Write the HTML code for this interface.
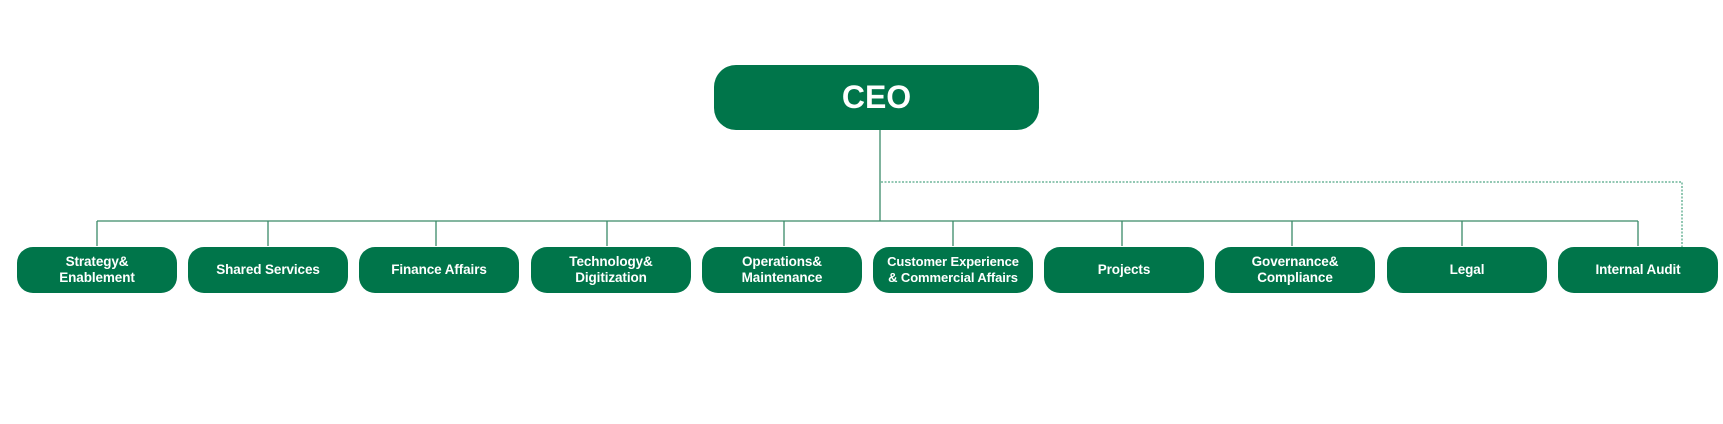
<!DOCTYPE html>
<html>
<head>
<meta charset="utf-8">
<style>
  html, body { margin: 0; padding: 0; background: #ffffff; }
  body { width: 1723px; height: 424px; overflow: hidden; position: relative; font-family: "Liberation Sans", sans-serif; }
  svg { position: absolute; left: 0; top: 0; }
  .box {
    position: absolute; top: 247px; width: 160px; height: 46px;
    background: #00754a; border-radius: 16px; color: #fff;
    font-weight: bold; font-size: 13.5px; line-height: 16.5px;
    display: flex; align-items: center; justify-content: center; text-align: center;
    letter-spacing: -0.1px;
  }
  .ceo {
    position: absolute; left: 714px; top: 65px; width: 325px; height: 65px;
    background: #00754a; border-radius: 22px; color: #fff;
    font-weight: bold; font-size: 32px;
    display: flex; align-items: center; justify-content: center;
  }
</style>
</head>
<body>
<svg width="1723" height="424" viewBox="0 0 1723 424">
  <g stroke="#3a8a68" stroke-width="1.3" fill="none">
    <line x1="880" y1="130" x2="880" y2="221"/>
    <line x1="97" y1="221" x2="1638" y2="221"/>
    <line x1="97" y1="221" x2="97" y2="246"/>
    <line x1="268" y1="221" x2="268" y2="246"/>
    <line x1="436" y1="221" x2="436" y2="246"/>
    <line x1="607" y1="221" x2="607" y2="246"/>
    <line x1="784" y1="221" x2="784" y2="246"/>
    <line x1="953" y1="221" x2="953" y2="246"/>
    <line x1="1122" y1="221" x2="1122" y2="246"/>
    <line x1="1292" y1="221" x2="1292" y2="246"/>
    <line x1="1462" y1="221" x2="1462" y2="246"/>
    <line x1="1638" y1="221" x2="1638" y2="246"/>
  </g>
  <polyline points="881,182 1682,182 1682,247" stroke="#6fb59a" stroke-width="1.5" fill="none" stroke-dasharray="2,1.5"/>
</svg>

<div class="ceo">CEO</div>

<div class="box" style="left:17px;">Strategy&amp;<br>Enablement</div>
<div class="box" style="left:188px;">Shared Services</div>
<div class="box" style="left:359px;">Finance Affairs</div>
<div class="box" style="left:531px;">Technology&amp;<br>Digitization</div>
<div class="box" style="left:702px;">Operations&amp;<br>Maintenance</div>
<div class="box" style="left:873px; font-size:13px;">Customer Experience<br>&amp; Commercial Affairs</div>
<div class="box" style="left:1044px;">Projects</div>
<div class="box" style="left:1215px;">Governance&amp;<br>Compliance</div>
<div class="box" style="left:1387px;">Legal</div>
<div class="box" style="left:1558px;">Internal Audit</div>
</body>
</html>
